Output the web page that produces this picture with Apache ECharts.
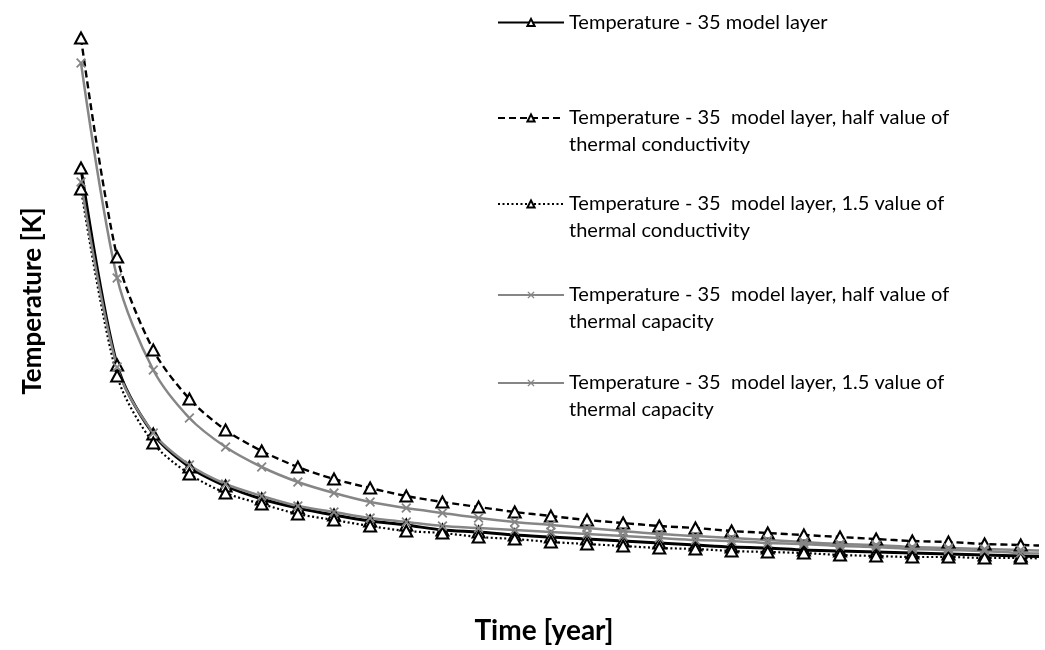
<!DOCTYPE html>
<html>
<head>
<meta charset="utf-8">
<script src="https://cdn.jsdelivr.net/npm/echarts@6/dist/echarts.min.js"></script>
<style>
  html, body { margin: 0; padding: 0; background: #ffffff; }
  #chart { width: 1045px; height: 650px; }
</style>
</head>
<body>
<div id="chart"></div>
<script>
// Time steps (years)
const years = [1, 2, 3, 4, 5, 6, 7, 8, 9, 10, 11, 12, 13, 14, 15, 16, 17, 18, 19, 20, 21, 22, 23, 24, 25, 26, 27, 28];

// Temperature [K] for each model variant
const baseLayer = [86.4, 47.0, 33.2, 26.6, 22.8, 20.2, 18.4, 17.0, 15.8, 15.0, 14.0, 13.6, 13.0, 12.6, 12.2, 11.8, 11.4, 11.0, 10.6, 10.4, 10.0, 9.8, 9.6, 9.4, 9.2, 9.0, 8.8, 8.6];
const halfConductivity = [112.4, 68.6, 50.0, 40.2, 34.0, 29.8, 26.6, 24.2, 22.4, 20.8, 19.6, 18.6, 17.6, 16.8, 16.0, 15.4, 14.8, 14.4, 13.8, 13.4, 13.0, 12.6, 12.2, 11.8, 11.6, 11.2, 11.0, 10.8];
const conductivity15 = [82.2, 44.8, 31.4, 25.2, 21.4, 19.2, 17.2, 16.0, 14.8, 13.8, 13.4, 12.6, 12.2, 11.6, 11.2, 10.8, 10.4, 10.2, 9.8, 9.6, 9.4, 9.0, 8.8, 8.6, 8.6, 8.4, 8.4, 8.2];
const halfCapacity = [107.4, 64.4, 46.0, 36.4, 30.6, 26.6, 23.6, 21.4, 19.6, 18.4, 17.4, 16.4, 15.6, 15.0, 14.4, 13.8, 13.2, 12.8, 12.4, 12.0, 11.6, 11.2, 11.0, 10.6, 10.4, 10.2, 10.0, 9.8];
const capacity15 = [83.6, 46.6, 33.4, 27.0, 23.2, 20.8, 18.8, 17.6, 16.4, 15.6, 14.8, 14.4, 14.0, 13.6, 13.2, 12.8, 12.4, 12.0, 11.8, 11.4, 11.2, 10.8, 10.6, 10.2, 10.0, 9.8, 9.4, 9.2];

const seriesNames = [
  'Temperature - 35 model layer',
  'Temperature - 35  model layer, half value of\nthermal conductivity',
  'Temperature - 35  model layer, 1.5 value of\nthermal conductivity',
  'Temperature - 35  model layer, half value of\nthermal capacity',
  'Temperature - 35  model layer, 1.5 value of\nthermal capacity'
];

const FONT = 'Lato, "Open Sans", sans-serif';
const GRAY = '#868686';
const CROSS = 'path://M0,1.3L1.3,0L5,3.7L8.7,0L10,1.3L6.3,5L10,8.7L8.7,10L5,6.3L1.3,10L0,8.7L3.7,5Z';

function pairs(values) {
  return values.map((v, i) => [years[i], v]);
}

function lineSeries(name, values, color, width, type, symbol, symbolSize) {
  return {
    name: name,
    type: 'line',
    data: pairs(values),
    smooth: 0.3,
    clip: true,
    symbol: symbol,
    symbolSize: symbolSize,
    symbolKeepAspect: true,
    showAllSymbol: true,
    lineStyle: { color: color, width: width, type: type },
    itemStyle: symbol === 'emptyTriangle'
      ? { color: color, borderColor: '#000', borderWidth: 2.1 }
      : { color: color, borderWidth: 0 },
    emphasis: { disabled: true },
    z: 2
  };
}

// Two-line entries get a blank leading line so the key sits beside the first line
const LINE_H = 27;
function legendAt(name, keyY, twoLines) {
  return {
    data: [name],
    left: 497,
    top: twoLines ? keyY - 1.5 * LINE_H : keyY - 12,
    padding: 0,
    itemWidth: 66,
    itemHeight: 9,
    itemGap: 0,
    selectedMode: false,
    formatter: twoLines ? (n => '\n' + n) : (n => n),
    textStyle: {
      fontFamily: FONT,
      fontSize: 20,
      color: '#000',
      lineHeight: LINE_H
    }
  };
}

const chart = echarts.init(document.getElementById('chart'), null, { renderer: 'canvas' });

chart.setOption({
  animation: false,
  backgroundColor: '#ffffff',
  grid: { left: 81, right: 8, top: 0, bottom: 50 },
  xAxis: {
    type: 'value',
    min: 1,
    max: 27.45,
    axisLine: { show: false },
    axisTick: { show: false },
    axisLabel: { show: false },
    splitLine: { show: false }
  },
  yAxis: {
    type: 'value',
    min: 0,
    max: 120,
    axisLine: { show: false },
    axisTick: { show: false },
    axisLabel: { show: false },
    splitLine: { show: false }
  },
  legend: [
    legendAt(seriesNames[0], 21, false),
    legendAt(seriesNames[1], 118, true),
    legendAt(seriesNames[2], 204, true),
    legendAt(seriesNames[3], 295, true),
    legendAt(seriesNames[4], 383, true)
  ],
  graphic: [
    {
      type: 'text',
      x: 33, y: 301,
      rotation: Math.PI / 2,
      style: {
        text: 'Temperature [K]',
        font: 'bold 26px ' + FONT,
        fill: '#000',
        align: 'center',
        verticalAlign: 'middle'
      }
    },
    {
      type: 'text',
      x: 544, y: 631,
      style: {
        text: 'Time [year]',
        font: 'bold 28px ' + FONT,
        fill: '#000',
        align: 'center',
        verticalAlign: 'middle'
      }
    }
  ],
  series: [
    lineSeries(seriesNames[0], baseLayer, '#000', 3, 'solid', 'emptyTriangle', [12, 11]),
    lineSeries(seriesNames[1], halfConductivity, '#000', 2.4, [7, 4], 'emptyTriangle', [12, 11]),
    lineSeries(seriesNames[2], conductivity15, '#000', 2.2, [2, 2.5], 'emptyTriangle', [12, 11]),
    lineSeries(seriesNames[3], halfCapacity, GRAY, 2.5, 'solid', CROSS, 10),
    lineSeries(seriesNames[4], capacity15, GRAY, 2.5, 'solid', CROSS, 10)
  ]
});
</script>
</body>
</html>
